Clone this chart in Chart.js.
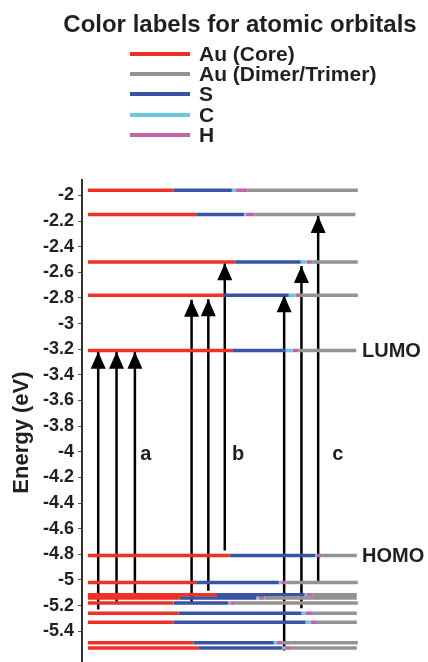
<!DOCTYPE html>
<html>
<head>
<meta charset="utf-8">
<title>Energy levels</title>
<script src="https://cdn.jsdelivr.net/npm/chart.js@4.4.1/dist/chart.umd.min.js"></script>
<style>
  html, body { margin: 0; padding: 0; background: #fff; }
  body {
    width: 428px; height: 662px; position: relative; overflow: hidden;
    font-family: "Liberation Sans", Arial, Helvetica, sans-serif; color: #231f20;
  }
  #wrap { position: absolute; left: 0; top: 0; width: 428px; height: 662px; }
  #legendTitle {
    position: absolute; left: 240px; top: 10px; transform: translateX(-50%);
    margin: 0; font-size: 24px; line-height: 28px; font-weight: bold; white-space: nowrap;
  }
  .item {
    position: absolute; left: 130px; height: 20px; display: flex; align-items: center;
    font-size: 21px; font-weight: bold; white-space: nowrap;
  }
  .swatch { width: 60px; height: 4px; margin-right: 9px; }
</style>
</head>
<body>
<div id="wrap"><canvas id="chart"></canvas></div>
<div id="legendTitle">Color labels for atomic orbitals</div>
<div id="legend"></div>

<script>
// orbital types (legend order)
const orbitalNames = ['Au (Core)', 'Au (Dimer/Trimer)', 'S', 'C', 'H'];
const orbitalColors = ['#ee3124', '#939393', '#3b53a4', '#66c9de', '#c363ab'];

// energy levels (eV) and where each orbital segment ends, in % of level width
const levelEnergy = [-1.96, -2.15, -2.52, -2.78, -3.21, -4.81, -5.02, -5.115, -5.14, -5.18, -5.26, -5.33, -5.49, -5.53];
const auCoreEnd   = [31.7, 40.1, 54.6, 50.2, 53.7, 52.5, 40.1, 47.8, 34.0, 31.7, 33.6, 31.7, 39.1, 41.1];
const sulfurEnd   = [53.3, 57.8, 78.8, 74.4, 73.2, 84.2, 70.7, 80.3, 62.3, 52.0, 79.1, 80.6, 68.8, 72.0];
const carbonEnd   = [54.9, 58.6, 81.1, 76.9, 75.9, 84.9, 71.6, 81.1, 63.2, 52.7, 80.6, 82.5, 70.0, 73.1];
const hydrogenEnd = [59.0, 61.7, 83.3, 78.6, 78.0, 86.8, 73.5, 83.3, 65.4, 54.7, 83.3, 84.9, 72.2, 75.3];
const auShellEnd  = [100, 99.1, 100, 100, 99.4, 99.6, 100, 99.6, 99.6, 100, 99.6, 99.6, 100, 99.6];

// transitions
const arrowX    = [3.8, 10.6, 17.4, 38.4, 44.6, 50.7, 72.7, 79.1, 85.3];
const arrowFrom = [-5.23, -5.18, -5.14, -5.18, -5.085, -4.77, -5.55, -5.22, -5.02];
const arrowTo   = [-3.22, -3.22, -3.22, -2.815, -2.81, -2.53, -2.78, -2.55, -2.16];

const groupLabels = ['a', 'b', 'c'];
const groupLabelX = [21.4, 55.6, 92.6];
const groupLabelY = [-4.02, -4.02, -4.02];

const frontierLabels = ['LUMO', 'HOMO'];
const frontierEnergy = [-3.21, -4.81];

const tickValues = [-2, -2.2, -2.4, -2.6, -2.8, -3, -3.2, -3.4, -3.6, -3.8, -4, -4.2, -4.4, -4.6, -4.8, -5, -5.2, -5.4];
const axisTitle = 'Energy (eV)';

const TEXT = '#231f20';
const FONT = '"Liberation Sans", Arial, Helvetica, sans-serif';
Chart.defaults.font.family = FONT;

// legend (html)
const legendEl = document.getElementById('legend');
orbitalNames.forEach((name, i) => {
  const row = document.createElement('div');
  row.className = 'item';
  row.style.top = (44 + i * 20.2) + 'px';
  row.innerHTML = `<span class="swatch" style="background:${orbitalColors[i]}"></span>${name}`;
  legendEl.appendChild(row);
});

// segment start/end for each orbital type
function segmentData(starts, ends) {
  const pts = [];
  levelEnergy.forEach((e, i) => {
    const a = starts ? starts[i] : 0;
    pts.push({ x: a, y: e }, { x: ends[i], y: e }, { x: ends[i], y: null });
  });
  return pts;
}

const segBounds = [
  [null, auCoreEnd],        // Au core
  [hydrogenEnd, auShellEnd],// Au dimer/trimer
  [auCoreEnd, sulfurEnd],   // S
  [sulfurEnd, carbonEnd],   // C
  [carbonEnd, hydrogenEnd]  // H
];

const datasets = orbitalNames.map((name, k) => ({
  label: name,
  data: segmentData(segBounds[k][0], segBounds[k][1]),
  borderColor: orbitalColors[k],
  borderWidth: 3.5,
  borderCapStyle: 'butt',
  pointRadius: 0,
  showLine: true,
  spanGaps: false
}));

const arrowPts = [];
arrowX.forEach((x, i) => {
  arrowPts.push({ x: x, y: arrowFrom[i] }, { x: x, y: arrowTo[i] }, { x: x, y: null });
});
datasets.push({
  label: 'transitions',
  data: arrowPts,
  borderColor: '#000',
  borderWidth: 2.5,
  borderCapStyle: 'butt',
  pointRadius: 0,
  showLine: true,
  spanGaps: false
});

// arrowheads, axis title and text annotations
const annotate = {
  id: 'annotate',
  afterDatasetsDraw(chart) {
    const { ctx, chartArea, scales: { x, y } } = chart;
    ctx.save();
    ctx.fillStyle = '#000';
    arrowX.forEach((ax, i) => {
      const px = x.getPixelForValue(ax);
      const py = y.getPixelForValue(arrowTo[i]);
      ctx.beginPath();
      ctx.moveTo(px, py);
      ctx.lineTo(px - 7.5, py + 17);
      ctx.lineTo(px + 7.5, py + 17);
      ctx.closePath();
      ctx.fill();
    });
    ctx.fillStyle = TEXT;
    ctx.font = 'bold 20px ' + FONT;
    ctx.textBaseline = 'middle';
    ctx.textAlign = 'center';
    groupLabels.forEach((t, i) => {
      ctx.fillText(t, x.getPixelForValue(groupLabelX[i]), y.getPixelForValue(groupLabelY[i]));
    });
    ctx.textAlign = 'left';
    frontierLabels.forEach((t, i) => {
      ctx.fillText(t, chartArea.right + 2, y.getPixelForValue(frontierEnergy[i]) + 1);
    });
    // y axis title, a little below the axis middle as in the figure
    ctx.translate(22, y.getPixelForValue(-3.85));
    ctx.rotate(-Math.PI / 2);
    ctx.textAlign = 'center';
    ctx.font = 'bold 22px ' + FONT;
    ctx.fillText(axisTitle, 0, 0);
    ctx.restore();
  }
};

new Chart(document.getElementById('chart'), {
  type: 'scatter',
  data: { datasets },
  options: {
    responsive: true,
    maintainAspectRatio: false,
    animation: false,
    layout: { padding: { top: 180, right: 68, bottom: 0, left: 0 } },
    plugins: {
      legend: { display: false },
      tooltip: { enabled: false }
    },
    scales: {
      x: { type: 'linear', min: -2.2, max: 100.8, display: false },
      y: {
        type: 'linear',
        min: -5.64,
        max: -1.88,
        afterFit: s => { s.width = 82; s.paddingTop = 0; s.paddingBottom = 0; },
        afterBuildTicks: s => { s.ticks = tickValues.map(v => ({ value: v })); },
        border: { display: true, color: '#333', width: 2 },
        grid: { drawOnChartArea: false, drawTicks: true, tickLength: 4, color: '#555', lineWidth: 1 },
        ticks: {
          padding: 4,
          color: TEXT,
          autoSkip: false,
          font: { size: 18, weight: 'bold' },
          callback: v => String(v)
        }
      }
    }
  },
  plugins: [annotate]
});
</script>
</body>
</html>
